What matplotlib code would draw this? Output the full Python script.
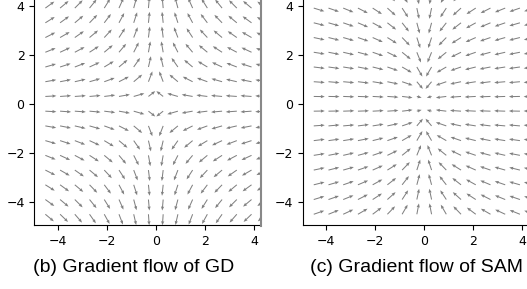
import numpy as np
import matplotlib
matplotlib.use("Agg")
import matplotlib.pyplot as plt
from matplotlib.patches import Rectangle
from matplotlib.lines import Line2D

# grid of arrow tails (same for x and y)
grid = [-4.5, -3.9, -3.3, -2.7, -2.1, -1.5, -0.9, -0.3,
        0.3, 0.9, 1.5, 2.1, 2.7, 3.3, 3.9, 4.5]

# arrow angles (deg) read off the upper-left quadrant,
# rows y = 4.5 ... 0.3, columns x = -4.5 ... -0.3
gd_angle = [
    [40, 44, 49, 55, 61, 69, 77, 86],
    [36, 40, 45, 51, 58, 66, 75, 85],
    [32, 36, 40, 46, 53, 62, 72, 84],
    [27, 30, 35, 40, 47, 57, 69, 83],
    [22, 25, 28, 33, 40, 50, 63, 80],
    [16, 18, 21, 25, 31, 40, 55, 77],
    [10, 11, 13, 16, 20, 27, 40, 69],
    [3, 4, 4, 5, 7, 10, 16, 38],
]
sam_angle = [
    [-19, -22, -25, -30, -37, -46, -60, -79],
    [-17, -19, -22, -27, -33, -42, -57, -78],
    [-14, -16, -19, -23, -29, -38, -52, -75],
    [-12, -14, -16, -19, -24, -32, -46, -72],
    [-9, -11, -13, -15, -19, -26, -39, -68],
    [-7, -8, -9, -11, -14, -19, -30, -60],
    [-4, -5, -5, -7, -9, -12, -19, -50],
    [-1, -1, -2, -2, -3, -4, -7, -15],
]
# relative arrow lengths, same quadrant layout
gd_len = [
    [1.0] * 8, [1.0] * 8, [1.0] * 8, [1.0] * 8,
    [1.0] * 8, [1.0] * 8, [1.0] * 8,
    [1.0, 1.0, 1.0, 1.0, 1.0, 1.0, 1.0, 0.78],
]
sam_len = [
    [1.0] * 8, [1.0] * 8, [1.0] * 8, [1.0] * 8,
    [1.0] * 8, [1.0] * 8,
    [1.0, 1.0, 1.0, 1.0, 1.0, 1.0, 1.0, 0.85],
    [1.0, 1.0, 1.0, 1.0, 1.0, 1.0, 0.95, 0.45],
]

ticks = [-4, -2, 0, 2, 4]
captions = ["(b) Gradient flow of GD", "(c) Gradient flow of SAM"]


def full_field(angle_q, len_q):
    a = np.radians(np.flipud(np.array(angle_q, float)))
    l = np.flipud(np.array(len_q, float))
    u = np.cos(a) * l
    v = np.sin(a) * l
    u_top = np.hstack([u, -np.fliplr(u)])
    v_top = np.hstack([v, np.fliplr(v)])
    U = np.vstack([np.flipud(u_top), u_top])
    V = np.vstack([-np.flipud(v_top), v_top])
    return U, V


X, Y = np.meshgrid(grid, grid)
arrow = 0.45

fig = plt.figure(figsize=(5.27, 2.89), dpi=100)
ax1 = fig.add_axes([0.0651, 0.2204, 0.4611, 0.8408])
ax2 = fig.add_axes([0.5744, 0.2204, 0.4611, 0.8408])

for ax, ang, ln in [(ax1, gd_angle, gd_len), (ax2, sam_angle, sam_len)]:
    U, V = full_field(ang, ln)
    ax.quiver(X, Y, U * arrow, V * arrow, angles='xy', scale_units='xy',
              scale=1, pivot='tail', color='gray', width=0.0042,
              headwidth=3.2, headlength=4, headaxislength=3.6)
    ax.set_xlim(-4.95, 4.95)
    ax.set_ylim(-4.95, 4.95)
    ax.set_xticks(ticks)
    ax.set_yticks(ticks)
    ax.tick_params(labelsize=9)

# the left panel is cut off by the next subfigure
fig.add_artist(Rectangle((262 / 527, 0.0), 40 / 527, 1.0,
                         transform=fig.transFigure, facecolor='white',
                         edgecolor='none', zorder=0.5))
fig.add_artist(Line2D([261 / 527] * 2, [(289 - 226) / 289, 1.0],
                      transform=fig.transFigure, color='#888888',
                      lw=1.5, zorder=0.6))
ax2.set_zorder(1)

fig.text(0.253, 0.073, captions[0], ha='center', va='center',
         fontsize=14, family='Liberation Sans')
fig.text(0.791, 0.073, captions[1], ha='center', va='center',
         fontsize=14, family='Liberation Sans')

fig.savefig('out.png', dpi=100)
